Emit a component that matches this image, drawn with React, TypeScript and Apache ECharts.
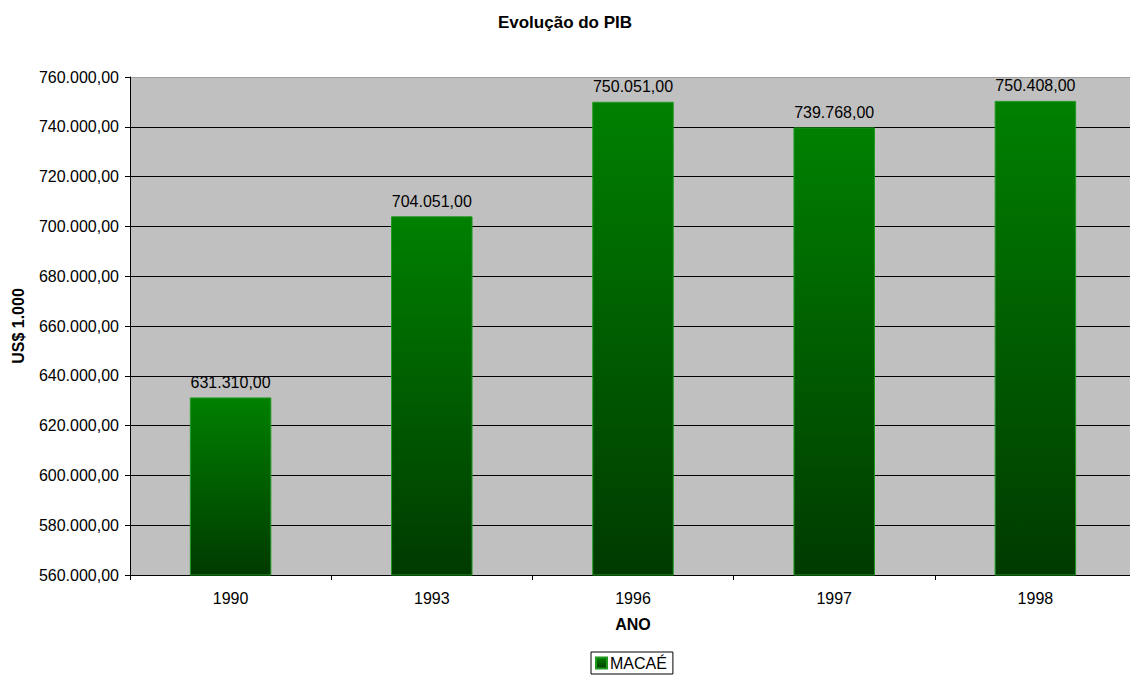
import React, { useEffect, useRef } from "react";
import * as echarts from "echarts";

const anos = ["1990", "1993", "1996", "1997", "1998"];
const pibMacae = [631310, 704051, 750051, 739768, 750408];
const serieNome = "MACAÉ";

const fmt = (v: number) =>
  v.toLocaleString("pt-BR", { minimumFractionDigits: 2, maximumFractionDigits: 2 });

const FONT = "Liberation Sans, Arial, sans-serif";

export default function App() {
  const ref = useRef<HTMLDivElement>(null);

  useEffect(() => {
    if (!ref.current) return;
    const chart = echarts.init(ref.current, null, { renderer: "svg" });
    // gridlines: black, except the top one which sits under the plot border
    const gridColors = Array.from({ length: 11 }, (_, i) => (i === 10 ? "#a0a0a0" : "#000000"));
    chart.setOption({
      animation: false,
      backgroundColor: "#ffffff",
      textStyle: { fontFamily: FONT, color: "#000" },
      title: {
        text: "Evolução do PIB",
        left: "center",
        top: 9,
        textStyle: { fontSize: 17, fontWeight: "bold", fontFamily: FONT, color: "#000" },
      },
      legend: {
        data: [serieNome],
        top: 652,
        left: 591,
        borderColor: "#000",
        borderWidth: 1,
        padding: [3, 6, 3, 4],
        itemWidth: 11,
        itemHeight: 11,
        itemGap: 3,
        icon: "rect",
        textStyle: { fontSize: 16, fontFamily: FONT, color: "#000", padding: [0, 0, 0, -2] },
      },
      grid: {
        left: 130,
        top: 77,
        width: 1006,
        height: 498,
        containLabel: false,
        outerBoundsMode: "none",
        show: true,
        backgroundColor: "#c0c0c0",
        borderWidth: 0,
      },
      xAxis: {
        type: "category",
        data: anos,
        name: "ANO",
        nameLocation: "middle",
        nameGap: 41,
        nameTextStyle: { fontSize: 16, fontWeight: "bold", fontFamily: FONT, color: "#000" },
        axisLine: { lineStyle: { color: "#000", width: 1 } },
        axisTick: { show: true, alignWithLabel: false, length: 5, lineStyle: { color: "#000" } },
        axisLabel: { fontSize: 16, fontFamily: FONT, color: "#000", margin: 15 },
      },
      yAxis: {
        type: "value",
        min: 560000,
        max: 760000,
        interval: 20000,
        name: "US$ 1.000",
        nameLocation: "middle",
        nameGap: 104,
        nameRotate: 90,
        nameTextStyle: { fontSize: 16, fontWeight: "bold", fontFamily: FONT, color: "#000" },
        axisLine: { show: true, lineStyle: { color: "#000", width: 1 } },
        axisTick: { show: true, length: 5, lineStyle: { color: "#000" } },
        axisLabel: { fontSize: 16, fontFamily: FONT, color: "#000", margin: 11, formatter: (v: number) => fmt(v) },
        splitLine: { show: true, lineStyle: { color: gridColors, width: 1 } },
      },
      series: [
        {
          name: serieNome,
          type: "bar",
          data: pibMacae,
          barWidth: "40.5%",
          itemStyle: {
            color: new echarts.graphic.LinearGradient(0, 0, 0, 1, [
              { offset: 0, color: "#008000" },
              { offset: 1, color: "#003a00" },
            ]),
            borderColor: "#1f9a1f",
            borderWidth: 1,
          },
          label: {
            show: true,
            position: "top",
            distance: 7,
            fontSize: 16,
            fontFamily: FONT,
            color: "#000",
            formatter: (p: any) => fmt(p.value),
          },
        },
      ],
    });
    return () => chart.dispose();
  }, []);

  return (
    <div
      ref={ref}
      style={{ position: "absolute", left: 0, top: 0, width: 1130, height: 677 }}
    />
  );
}
